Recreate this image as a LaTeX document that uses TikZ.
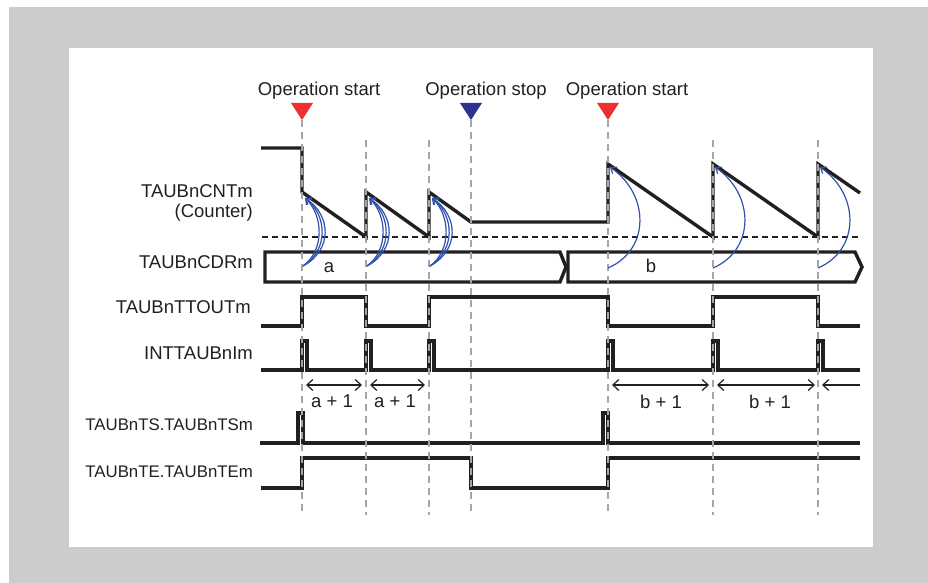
\documentclass[tikz,border=0pt]{standalone}
\usepackage{fontspec}
\setmainfont{Liberation Sans}
\usetikzlibrary{arrows.meta}
\definecolor{bggray}{HTML}{CCCCCC}
\definecolor{txt}{HTML}{231F20}
\definecolor{gridgray}{HTML}{A2A7AC}
\definecolor{opred}{HTML}{EE2E30}
\definecolor{opblue}{HTML}{2E3192}
\definecolor{curveblue}{HTML}{3052AE}
\begin{document}
\begin{tikzpicture}[x=1pt,y=-1pt,
  sig/.style={line width=3.4pt, draw=txt, line join=miter},
  gridline/.style={draw=gridgray, line width=1.5pt, dash pattern=on 7pt off 5pt},
  refline/.style={draw=txt, line width=1.3pt, dash pattern=on 6pt off 4pt},
  lbl/.style={font=\fontsize{18.5}{22}\selectfont, text=txt, inner sep=0pt},
  slbl/.style={font=\fontsize{16.8}{20}\selectfont, text=txt, inner sep=0pt},
  dimarrow/.style={draw=txt, line width=1.2pt, {Straight Barb[length=6pt,width=11pt]}-{Straight Barb[length=6pt,width=11pt]}},
  reload/.style={draw=curveblue, line width=1.2pt, -{Straight Barb[length=5pt,width=8pt]}}
]
\useasboundingbox (0,0) rectangle (928,583);
\fill[bggray] (9,7) rectangle (928,583);
\fill[white] (69,48) rectangle (873,547);

% operation labels and triangles
\node[lbl, anchor=base] (os1) at (319,96) {Operation start};
\node[lbl, anchor=base] (ostop) at (486,96) {Operation stop};
\node[lbl, anchor=base] (os2) at (627,96) {Operation start};
\fill[opred] (291,103) -- (313,103) -- (302,120) -- cycle;
\fill[opblue] (460,103) -- (482,103) -- (471,120) -- cycle;
\fill[opred] (597,103) -- (619,103) -- (608,120) -- cycle;

% signal labels
\node[lbl, anchor=base east] (lcnt) at (253,197) {TAUBnCNTm};
\node[lbl, anchor=base east] (lcntb) at (253,217) {(Counter)};
\node[lbl, anchor=base east] (lcdr) at (253,268) {TAUBnCDRm};
\node[lbl, anchor=base east] (ltt) at (251,313) {TAUBnTTOUTm};
\node[lbl, anchor=base east] (lint) at (253,359) {INTTAUBnIm};
\node[slbl, anchor=base east] (lts) at (253,430) {TAUBnTS.TAUBnTSm};
\node[slbl, anchor=base east] (lte) at (253,477) {TAUBnTE.TAUBnTEm};

% counter reference level
\draw[refline] (262,237) -- (860,237);

% counter
\draw[sig] (261,148) -- (302,148) -- (302,192) -- (366,237) -- (366,192) -- (429,237) -- (429,192) -- (471,222) -- (608,222) -- (608,164) -- (713,237) -- (713,164) -- (818,237) -- (818,164) -- (860,193);

% CDR bus
\draw[sig] (265,252) -- (560,252) -- (566,267) -- (560,282) -- (265,282) -- cycle;
\draw[sig] (568,252) -- (855,252) -- (862,267) -- (855,282) -- (568,282) -- cycle;
\node[lbl, anchor=base] (va) at (329,272) {a};
\node[lbl, anchor=base] (vb) at (651,272) {b};

% TTOUT
\draw[sig] (261,326) -- (302,326) -- (302,297) -- (366,297) -- (366,326) -- (429,326) -- (429,297) -- (608,297) -- (608,326) -- (713,326) -- (713,297) -- (818,297) -- (818,326) -- (860,326);

% INT
\draw[sig] (261,370) -- (302,370) -- (302,341) -- (307,341) -- (307,370)
  -- (366,370) -- (366,341) -- (371,341) -- (371,370)
  -- (429,370) -- (429,341) -- (434,341) -- (434,370)
  -- (608,370) -- (608,341) -- (613,341) -- (613,370)
  -- (713,370) -- (713,341) -- (718,341) -- (718,370)
  -- (818,370) -- (818,341) -- (823,341) -- (823,370) -- (860,370);

% TS
\draw[sig] (260,443) -- (298,443) -- (298,413) -- (303,413) -- (303,443) -- (603,443) -- (603,413) -- (608,413) -- (608,443) -- (860,443);

% TE
\draw[sig] (261,488) -- (302,488) -- (302,458) -- (471,458) -- (471,488) -- (608,488) -- (608,458) -- (860,458);

% vertical dashed grid lines
\draw[gridline] (302,120) -- (302,515);
\draw[gridline] (366,140) -- (366,515);
\draw[gridline] (429,140) -- (429,515);
\draw[gridline] (471,120) -- (471,515);
\draw[gridline] (608,120) -- (608,515);
\draw[gridline] (713,140) -- (713,515);
\draw[gridline] (818,140) -- (818,515);

% period arrows
\coordinate (p1l) at (306,385); \coordinate (p1r) at (362,385);
\coordinate (p2l) at (370,385); \coordinate (p2r) at (425,385);
\coordinate (q1l) at (612,385); \coordinate (q1r) at (709,385);
\coordinate (q2l) at (717,385); \coordinate (q2r) at (815,385);
\coordinate (q3l) at (822,385); \coordinate (q3r) at (860,385);
\draw[dimarrow] (p1l) -- (p1r);
\draw[dimarrow] (p2l) -- (p2r);
\draw[dimarrow] (q1l) -- (q1r);
\draw[dimarrow] (q2l) -- (q2r);
\draw[draw=txt, line width=1.2pt, {Straight Barb[length=6pt,width=11pt]}-] (q3l) -- (q3r);
\node[lbl, anchor=base] (ta1) at (332,407) {a + 1};
\node[lbl, anchor=base] (ta2) at (395,407) {a + 1};
\node[lbl, anchor=base] (tb1) at (661,408) {b + 1};
\node[lbl, anchor=base] (tb2) at (770,408) {b + 1};

% reload curves (a)
\foreach \X in {302,366,429} {
  \foreach \d in {-4,0,4} {
    \draw[reload] (\X+1,266) .. controls (\X+27+\d,250) and (\X+25+\d,215) .. (\X+3,198);
  }
}
% reload curves (b)
\foreach \X in {608,713,818} {
  \draw[reload] (\X,268) .. controls (\X+42,250) and (\X+42,195) .. (\X+2,167);
}
\end{tikzpicture}
\end{document}
